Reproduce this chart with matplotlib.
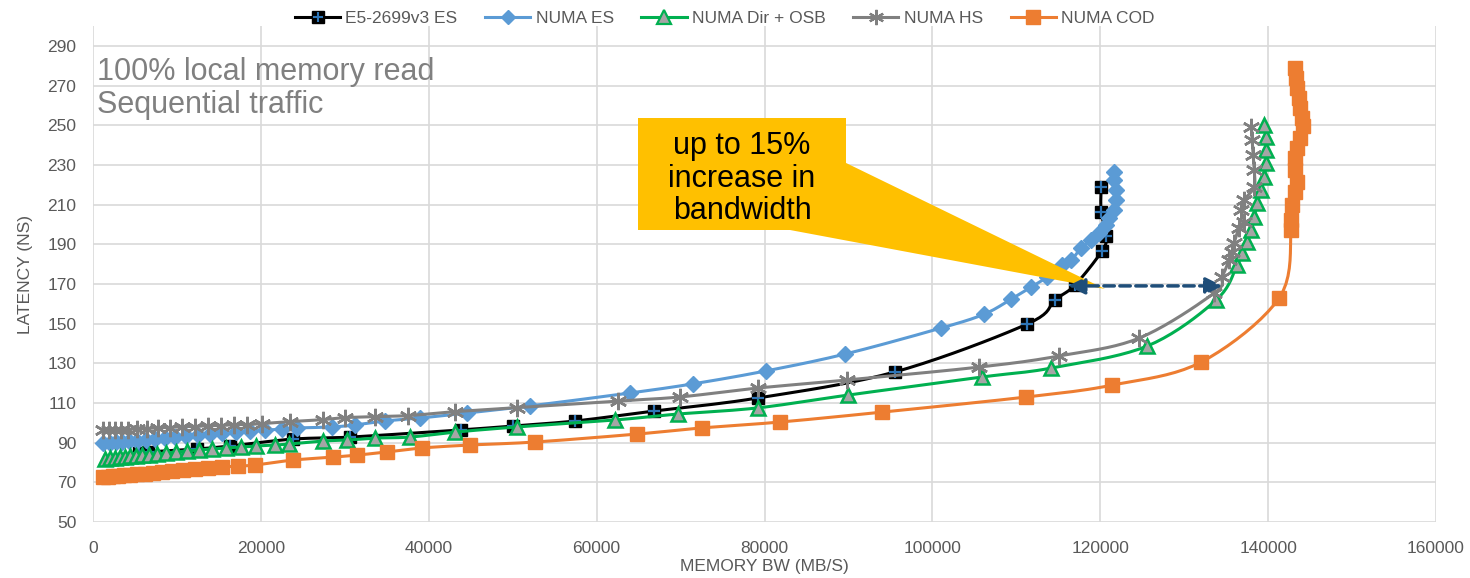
import numpy as np
import matplotlib
matplotlib.use("Agg")
import matplotlib.pyplot as plt
from matplotlib.lines import Line2D
from matplotlib.patches import Polygon, Rectangle, FancyArrowPatch
from matplotlib.legend_handler import HandlerTuple

plt.rcParams['font.family'] = ['Liberation Sans Narrow', 'Liberation Sans', 'DejaVu Sans']

# bandwidth (MB/s) and latency (ns)
e5_bw = [5500, 6500, 12400, 16300, 23800, 30600, 43800, 50000, 57400, 66800,
         79200, 95500, 111300, 114600, 117000, 120200, 120700, 120100, 120100]
e5_lat = [84.8, 85.3, 86.8, 88.3, 91.8, 92.8, 96.4, 98.4, 100.9, 105.9,
          112.5, 125.6, 149.8, 161.9, 169.5, 186.6, 194.2, 206.3, 218.9]

es_bw = [1190, 2020, 2740, 3450, 4290, 5240, 6310, 7380, 8570, 9760, 11070,
         12500, 13930, 15360, 17020, 18690, 20480, 22500, 24290, 28450, 31190,
         34760, 38930, 44520, 52020, 63930, 71430, 80120, 89640, 101070, 106190,
         109400, 111790, 113690, 115480, 116550, 117740, 118930, 119880, 120710,
         121070, 121670, 121900, 121900, 121670, 121670]
es_lat = [89.8, 89.8, 90.3, 90.3, 90.8, 90.8, 91.3, 91.8, 92.3, 92.8, 93.3,
          93.8, 94.3, 94.8, 95.3, 95.8, 96.3, 96.8, 97.4, 97.9, 98.9,
          100.9, 102.4, 104.9, 108.5, 115.0, 119.6, 126.1, 134.7, 147.8, 154.8,
          162.4, 168.5, 173.5, 179.6, 182.1, 188.2, 192.2, 195.7, 199.7,
          203.3, 207.3, 212.4, 217.4, 222.4, 226.5]

dir_bw = [1430, 2020, 2620, 3210, 3810, 4400, 5120, 5830, 6670, 7620, 8690,
          9880, 11190, 12620, 14170, 15830, 17620, 19400, 21670, 23330, 27380,
          30240, 33570, 37740, 43100, 50480, 62140, 69640, 79170, 90000, 105950,
          114170, 125600, 133810, 136310, 136900, 137500, 137980, 138330, 138690,
          139170, 139520, 139760, 139760, 139760, 139520]
dir_lat = [81.7, 82.2, 82.2, 82.7, 82.7, 83.2, 83.2, 83.8, 83.8, 84.3, 84.8,
           85.3, 85.8, 86.3, 86.8, 87.3, 87.8, 88.3, 88.8, 89.3, 90.8,
           91.3, 92.3, 92.8, 95.3, 97.9, 101.4, 104.4, 107.5, 114.0, 123.1,
           127.6, 138.7, 161.9, 179.6, 185.6, 191.2, 197.2, 203.8, 210.8,
           217.4, 223.9, 231.0, 237.6, 244.1, 250.2]

hs_bw = [1190, 1900, 2620, 3330, 4170, 5240, 6430, 7740, 9170, 10600, 12140,
         13690, 15240, 16790, 18330, 20120, 23450, 27380, 30000, 33570, 37500,
         43100, 50480, 62500, 69880, 79170, 89880, 105600, 115120, 124640,
         133570, 134520, 135360, 135710, 135950, 136550, 137140, 136790, 137140,
         138330, 138330, 138210, 138100, 137980]
hs_lat = [96.6, 96.6, 96.6, 96.6, 96.6, 97.1, 97.1, 97.6, 97.6, 98.1, 98.1,
          98.6, 98.6, 99.1, 99.1, 99.6, 100.6, 101.6, 102.6, 103.1, 103.6,
          105.6, 107.6, 111.0, 113.0, 117.5, 121.6, 128.1, 133.7, 142.7,
          165.4, 173.5, 182.1, 186.1, 190.7, 198.2, 201.2, 207.3, 212.3,
          218.9, 227.5, 235.0, 242.6, 249.2]

cod_bw = [1190, 1790, 2380, 2980, 3690, 4400, 5240, 6190, 7140, 8210, 9400,
          10710, 12140, 13690, 15360, 17260, 19290, 23800, 28570, 31430, 35000,
          39170, 44880, 52620, 64760, 72500, 81900, 94050, 111190, 121430,
          132020, 141310, 142740, 142740, 142860, 143210, 143450, 143210, 143210,
          143450, 143810, 144170, 144050, 143810, 143690, 143450, 143330, 143210]
cod_lat = [72.7, 72.7, 73.2, 73.2, 73.7, 73.7, 74.2, 74.2, 74.7, 75.2, 75.7,
           76.2, 76.7, 77.2, 77.7, 78.2, 78.7, 81.2, 82.7, 83.7, 85.3,
           87.3, 88.8, 90.3, 94.3, 97.4, 100.4, 105.4, 113.0, 119.0,
           130.6, 162.9, 197.2, 202.3, 209.8, 216.4, 221.4, 227.5, 233.5,
           238.6, 243.6, 249.7, 253.7, 258.7, 263.8, 268.8, 273.9, 278.9]

series_names = ["E5-2699v3 ES", "NUMA ES", "NUMA Dir + OSB", "NUMA HS", "NUMA COD"]

x_ticks = [0, 20000, 40000, 60000, 80000, 100000, 120000, 140000, 160000]
y_ticks = [50, 70, 90, 110, 130, 150, 170, 190, 210, 230, 250, 270, 290]

GRID = '#D9D9D9'
TXT = '#595959'


# smoothed line like excel's "smoothed line" option (catmull-rom through the points)
def smooth(xs, ys, n=10):
    p = np.column_stack([xs, ys]).astype(float)
    p = np.vstack([p[0], p, p[-1]])
    out = []
    t = np.linspace(0, 1, n, endpoint=False)[:, None]
    for i in range(1, len(p) - 2):
        p0, p1, p2, p3 = p[i - 1], p[i], p[i + 1], p[i + 2]
        seg = 0.5 * ((2 * p1) + (-p0 + p2) * t + (2 * p0 - 5 * p1 + 4 * p2 - p3) * t ** 2
                     + (-p0 + 3 * p1 - 3 * p2 + p3) * t ** 3)
        out.append(seg)
    out.append(p[-2][None, :])
    out = np.vstack(out)
    return out[:, 0], out[:, 1]


fig = plt.figure(figsize=(14.7, 5.78), dpi=100)
ax = fig.add_axes([0.0633, 0.0969, 0.9136, 0.8581])

# E5 - black squares with a blue cross
sx, sy = smooth(e5_bw, e5_lat)
ax.plot(sx, sy, color='black', lw=2.2, zorder=3)
ax.plot(e5_bw, e5_lat, ls='none', marker='s', ms=9, mfc='black', mec='black', zorder=4)
ax.plot(e5_bw, e5_lat, ls='none', marker='+', ms=8, mew=1.6, color='#2E75B6', zorder=4)

sx, sy = smooth(es_bw, es_lat)
ax.plot(sx, sy, color='#5B9BD5', lw=2.2, zorder=5)
ax.plot(es_bw, es_lat, ls='none', marker='D', ms=8.5, mfc='#5B9BD5', mec='#5B9BD5', zorder=6)

sx, sy = smooth(dir_bw, dir_lat)
ax.plot(sx, sy, color='#00B050', lw=2.2, zorder=7)
ax.plot(dir_bw, dir_lat, ls='none', marker='^', ms=10.5, mfc='#A5A5A5', mec='#00B050', mew=1.8, zorder=8)

sx, sy = smooth(hs_bw, hs_lat)
ax.plot(sx, sy, color='#808080', lw=2.2, zorder=9)
ax.plot(hs_bw, hs_lat, ls='none', marker=(6, 2, 0), ms=12.5, mec='#808080', mew=1.8, zorder=10)

sx, sy = smooth(cod_bw, cod_lat)
ax.plot(sx, sy, color='#ED7D31', lw=2.2, zorder=11)
ax.plot(cod_bw, cod_lat, ls='none', marker='s', ms=10.5, mfc='#ED7D31', mec='#ED7D31', zorder=12)

ax.set_xlim(0, 160000)
ax.set_ylim(50, 300)
ax.set_xticks(x_ticks)
ax.set_yticks(y_ticks)
ax.grid(True, color=GRID, lw=1.2, zorder=0)
ax.set_axisbelow(True)
for s in ax.spines.values():
    s.set_visible(False)
ax.tick_params(length=0, labelsize=12.5, labelcolor=TXT, pad=14)
ax.tick_params(axis='y', pad=12)
ax.set_xlabel('MEMORY BW (MB/S)', fontsize=12.5, color=TXT, labelpad=2)
ax.set_ylabel('LATENCY (NS)', fontsize=12.5, color=TXT, labelpad=10)

ax.text(0.003, 0.937, '100% local memory read\nSequential traffic', transform=ax.transAxes,
        fontsize=22, color='#808080', family=['Liberation Sans', 'DejaVu Sans'],
        va='top', ha='left', linespacing=1.12)

# callout box with pointer
ax.add_patch(Polygon([(0.5607, 0.7238), (0.519, 0.5887), (0.7535, 0.4698)], closed=True,
                     transform=ax.transAxes, color='#FFC000', lw=0, zorder=14))
ax.add_patch(Rectangle((0.4058, 0.5887), 0.1549, 0.2258, transform=ax.transAxes,
                       color='#FFC000', lw=0, zorder=14))
ax.text(0.4833, 0.692, 'up to 15%\nincrease in\nbandwidth', transform=ax.transAxes,
        ha='center', va='center', fontsize=22, color='black', linespacing=1.1,
        family=['Liberation Sans', 'DejaVu Sans'], zorder=15)

arr = FancyArrowPatch((0.726, 0.476), (0.841, 0.476), transform=ax.transAxes,
                      arrowstyle='<|-|>,head_length=10,head_width=5', color='#1F4E79',
                      lw=2.5, ls=(0, (3, 1.6)), zorder=16, shrinkA=0, shrinkB=0)
ax.add_patch(arr)

handles = [
    (Line2D([], [], color='black', lw=2.2, marker='s', ms=8, mfc='black', mec='black'),
     Line2D([], [], ls='none', marker='+', ms=7, mew=1.5, color='#2E75B6')),
    Line2D([], [], color='#5B9BD5', lw=2.2, marker='D', ms=7.5, mfc='#5B9BD5', mec='#5B9BD5'),
    Line2D([], [], color='#00B050', lw=2.2, marker='^', ms=9.5, mfc='#A5A5A5', mec='#00B050', mew=1.6),
    Line2D([], [], color='#808080', lw=2.2, marker=(6, 2, 0), ms=11, mew=1.6),
    Line2D([], [], color='#ED7D31', lw=2.2, marker='s', ms=10, mfc='#ED7D31', mec='#ED7D31'),
]
fig.legend(handles, series_names, loc='center', bbox_to_anchor=(0.493, 0.968), ncol=5,
           frameon=False, fontsize=12.5, labelcolor=TXT, handlelength=2.6, handletextpad=0.3,
           columnspacing=1.6, handler_map={tuple: HandlerTuple(ndivide=1)})

fig.savefig('out.png', dpi=100, facecolor='white')
